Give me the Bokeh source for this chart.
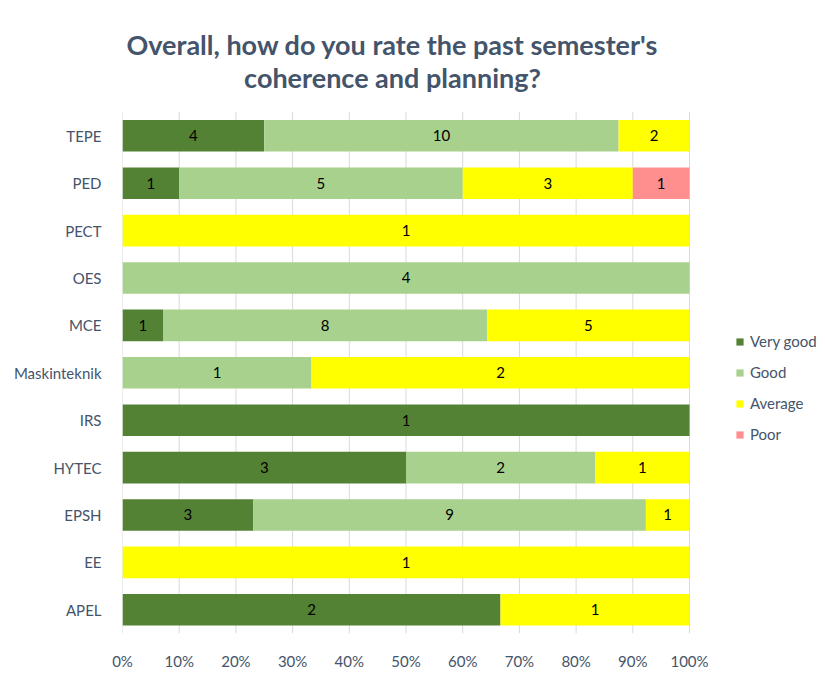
from bokeh.plotting import figure
from bokeh.models import ColumnDataSource, Legend, LegendItem, NumeralTickFormatter, FixedTicker, Label, Range1d
from bokeh.core.properties import value
from bokeh.embed import file_html
from bokeh.resources import INLINE

categories = ["APEL", "EE", "EPSH", "HYTEC", "IRS", "Maskinteknik", "MCE", "OES", "PECT", "PED", "TEPE"]
very_good = [2, 0, 3, 3, 1, 0, 1, 0, 0, 1, 4]
good      = [0, 0, 9, 2, 0, 1, 8, 4, 0, 5, 10]
average   = [1, 1, 1, 1, 0, 2, 5, 0, 1, 3, 2]
poor      = [0, 0, 0, 0, 0, 0, 0, 0, 0, 1, 0]
series_names = ["Very good", "Good", "Average", "Poor"]
series_colors = ["#548235", "#A9D18E", "#FFFF00", "#FF8F8F"]
x_ticks = [0, 0.1, 0.2, 0.3, 0.4, 0.5, 0.6, 0.7, 0.8, 0.9, 1.0]
title_lines = ["Overall, how do you rate the past semester's", "coherence and planning?"]

FONT = "Lato"
TXT = "#44546A"

n = len(categories)
ypos = list(range(n))
series = [very_good, good, average, poor]
totals = [sum(s[i] for s in series) for i in range(n)]
keys = ["vg", "g", "a", "p"]
data = {"y": ypos}
for k, s in zip(keys, series):
    data[k] = [v / t for v, t in zip(s, totals)]
src = ColumnDataSource(data)

# frame: x 0..1 spans 567px starting 122px from left; rows are 48px apart
PX_X = 567.0
PX_Y = 48.0
W, H = 817, 672
LEFT, BOTTOM = 122, 31
x_end = (W - LEFT) / PX_X
y_start = -0.5
y_end = y_start + (H - BOTTOM) / PX_Y

p = figure(width=W, height=H, x_range=Range1d(0, x_end), y_range=Range1d(y_start, y_end),
           output_backend="svg", toolbar_location=None,
           min_border_left=LEFT, min_border_right=0, min_border_top=0, min_border_bottom=BOTTOM)

# gridlines limited to plotting area
p.segment(x0=x_ticks, x1=x_ticks, y0=[y_start] * len(x_ticks), y1=[n - 0.5] * len(x_ticks),
          line_color="#D9D9D9", line_width=1, level="underlay")

renderers = p.hbar_stack(keys, y="y", height=0.667, color=series_colors, source=src, line_color=None)

# segment labels
lx, ly, lt = [], [], []
for i in range(n):
    left = 0.0
    for s in series:
        frac = s[i] / totals[i]
        if s[i] > 0:
            lx.append(left + frac / 2)
            ly.append(ypos[i])
            lt.append(str(s[i]))
        left += frac
p.text(x=lx, y=ly, text=lt, text_align="center", text_baseline="middle",
       text_font=value(FONT), text_font_size="15px", text_color="#000000")

legend = Legend(items=[LegendItem(label=nm, renderers=[r]) for nm, r in zip(series_names, renderers)],
                location=(613, 189), border_line_color=None, background_fill_alpha=0,
                label_text_font=FONT, label_text_font_size="15px", label_text_color=TXT,
                glyph_width=9, glyph_height=9, label_height=20, spacing=11, label_standoff=6,
                margin=0, padding=0)
p.add_layout(legend)

p.xaxis.ticker = FixedTicker(ticks=x_ticks)
p.xaxis.formatter = NumeralTickFormatter(format="0%")
p.yaxis.ticker = FixedTicker(ticks=ypos)
p.yaxis.major_label_overrides = {i: c for i, c in zip(ypos, categories)}
for ax in (p.xaxis[0], p.yaxis[0]):
    ax.axis_line_color = None
    ax.major_tick_line_color = None
    ax.minor_tick_line_color = None
    ax.major_label_text_font = FONT
    ax.major_label_text_font_size = "15px"
    ax.major_label_text_color = TXT
p.xaxis.major_label_standoff = 12
p.yaxis.major_label_standoff = 15
p.xgrid.grid_line_color = None
p.ygrid.grid_line_color = None
p.outline_line_color = None

title_x = (392 - LEFT) / PX_X
title_y = [y_start + (H - BOTTOM - 45) / PX_Y, y_start + (H - BOTTOM - 78) / PX_Y]
for txt, ty in zip(title_lines, title_y):
    p.add_layout(Label(x=title_x, y=ty, text=txt,
                       text_align="center", text_baseline="middle", text_font=FONT,
                       text_font_size="27px", text_font_style="bold", text_color=TXT))

open("out.html", "w").write(file_html(p, INLINE))
